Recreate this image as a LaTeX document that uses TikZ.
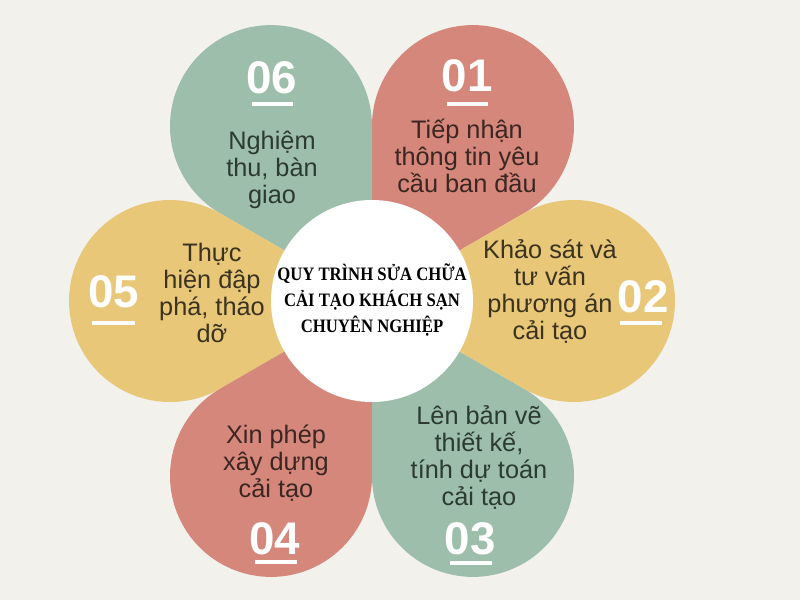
\documentclass[tikz,border=0pt]{standalone}
\usepackage{fontspec}
\setmainfont{Liberation Sans}
\newfontfamily\titlefont[FakeStretch=0.88]{Liberation Serif}
\definecolor{bgcol}{HTML}{F3F1EC}
\definecolor{salmon}{HTML}{D6877B}
\definecolor{sage}{HTML}{9DBEAA}
\definecolor{sand}{HTML}{E8C878}
\definecolor{salmontext}{HTML}{3B2622}
\definecolor{sagetext}{HTML}{2C3B32}
\definecolor{sandtext}{HTML}{3B3220}
\tikzset{
  petaltext/.style={align=center,inner sep=0,font=\fontsize{18}{19.2}\selectfont},
  numtext/.style={inner sep=0,text=white,font=\bfseries\fontsize{32.5}{32.5}\selectfont},
  numline/.style={white,line width=2.8pt},
}
\begin{document}
\begin{tikzpicture}[x=0.025cm,y=0.025cm]
  \fill[bgcol] (0,0) rectangle (800,600);
  \coordinate (C) at (372,299);

  % petals
  \fill[salmon] (C) -- ++(30:174.9) arc[start angle=-60,end angle=180,radius=101] -- cycle;
  \fill[sage] (C) -- ++(90:174.9) arc[start angle=0,end angle=240,radius=101] -- cycle;
  \fill[sand] (C) -- ++(150:174.9) arc[start angle=60,end angle=300,radius=101] -- cycle;
  \fill[salmon] (C) -- ++(210:174.9) arc[start angle=120,end angle=360,radius=101] -- cycle;
  \fill[sage] (C) -- ++(270:174.9) arc[start angle=180,end angle=420,radius=101] -- cycle;
  \fill[sand] (C) -- ++(-30:174.9) arc[start angle=-120,end angle=120,radius=101] -- cycle;

  \fill[white] (C) circle[radius=101];

  \node (title) at (372,300) [align=center,inner sep=0,font=\titlefont\bfseries\fontsize{13.5}{18.5}\selectfont]
    {QUY TRÌNH SỬA CHỮA\\CẢI TẠO KHÁCH SẠN\\CHUYÊN NGHIỆP};

  % numbers
  \node (n01) at (467,524) [numtext]{01};
  \node (n02) at (643,303) [numtext]{02};
  \node (n03) at (470,61) [numtext]{03};
  \node (n04) at (275,61) [numtext]{04};
  \node (n05) at (114,308) [numtext]{05};
  \node (n06) at (272,522) [numtext]{06};

  \draw[numline] (447,496) -- (488,496);
  \draw[numline] (620,277) -- (662,277);
  \draw[numline] (450,37) -- (492,37);
  \draw[numline] (255,38) -- (297,38);
  \draw[numline] (92,277) -- (135,277);
  \draw[numline] (252,496) -- (293,496);

  % steps
  \node (s01) at (467,444) [petaltext,text=salmontext]{Tiếp nhận\\thông tin yêu\\cầu ban đầu};
  \node (s02) at (550,309) [petaltext,text=sandtext]{Khảo sát và\\tư vấn\\phương án\\cải tạo};
  \node (s03) at (479,143) [petaltext,text=sagetext]{Lên bản vẽ\\thiết kế,\\tính dự toán\\cải tạo};
  \node (s04) at (276,137) [petaltext,text=salmontext]{Xin phép\\xây dựng\\cải tạo};
  \node (s05) at (212,307) [petaltext,text=sandtext]{Thực\\hiện đập\\phá, tháo\\dỡ};
  \node (s06) at (272,430) [petaltext,text=sagetext]{Nghiệm\\thu, bàn\\giao};
\end{tikzpicture}
\end{document}
